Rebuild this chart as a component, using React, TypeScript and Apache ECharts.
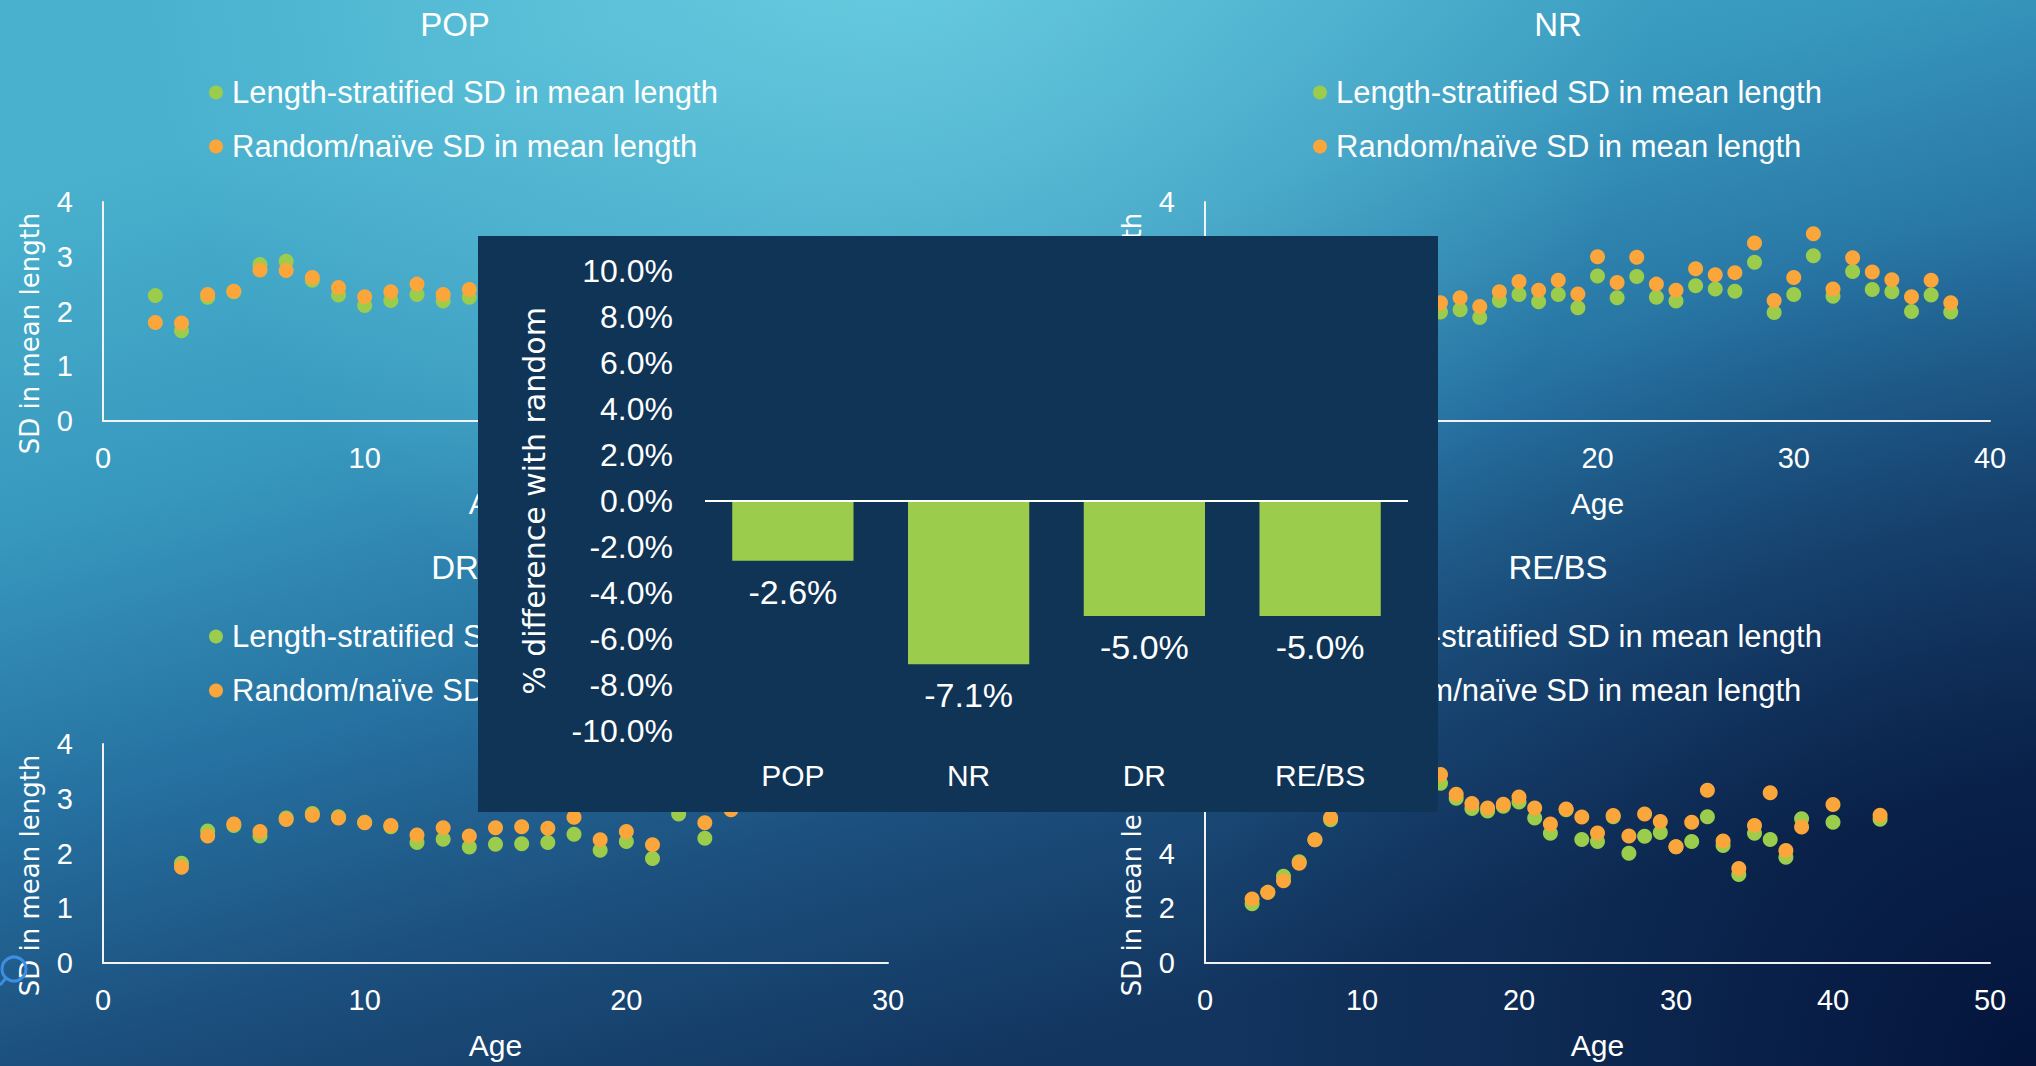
import React, { useEffect, useRef } from "react";
import * as echarts from "echarts";

const WIDTH = 2036;
const HEIGHT = 1066;

const STRATIFIED = "Length-stratified SD in mean length";
const RANDOM = "Random/naïve SD in mean length";

// POP
const popAges = [2, 3, 4, 5, 6, 7, 8, 9, 10, 11, 12, 13, 14];
const popStratified = [2.29, 1.65, 2.26, 2.36, 2.86, 2.92, 2.57, 2.3, 2.11, 2.2, 2.31, 2.19, 2.26];
const popRandom = [1.8, 1.79, 2.31, 2.37, 2.76, 2.75, 2.62, 2.44, 2.27, 2.36, 2.5, 2.31, 2.4];

// NR
const nrAges = [12, 13, 14, 15, 16, 17, 18, 19, 20, 21, 22, 23, 24, 25, 26, 27, 28, 29, 30, 31, 32, 33, 34, 35, 36, 37, 38];
const nrStratified = [1.99, 2.03, 1.89, 2.2, 2.31, 2.18, 2.31, 2.07, 2.65, 2.25, 2.64, 2.26, 2.19, 2.47, 2.41, 2.37, 2.9, 1.98, 2.31, 3.02, 2.28, 2.73, 2.4, 2.36, 2.0, 2.3, 1.99];
const nrRandom = [2.16, 2.25, 2.09, 2.36, 2.55, 2.39, 2.57, 2.32, 3.0, 2.53, 2.99, 2.5, 2.39, 2.78, 2.67, 2.71, 3.25, 2.2, 2.62, 3.42, 2.41, 2.98, 2.72, 2.58, 2.27, 2.57, 2.16];

// DR
const drAges = [3, 4, 5, 6, 7, 8, 9, 10, 11, 12, 13, 14, 15, 16, 17, 18, 19, 20, 21, 22, 23, 24];
const drStratified = [1.82, 2.41, 2.51, 2.32, 2.65, 2.73, 2.67, 2.57, 2.49, 2.2, 2.26, 2.12, 2.17, 2.18, 2.2, 2.35, 2.06, 2.22, 1.91, 2.72, 2.28, null];
const drRandom = [1.75, 2.32, 2.54, 2.4, 2.62, 2.7, 2.65, 2.56, 2.51, 2.34, 2.47, 2.32, 2.47, 2.49, 2.46, 2.66, 2.25, 2.4, 2.16, null, 2.56, 2.8];

// RE/BS
const rebsAges = [3, 4, 5, 6, 7, 8, 15, 16, 17, 18, 19, 20, 21, 22, 23, 24, 25, 26, 27, 28, 29, 30, 31, 32, 33, 34, 35, 36, 37, 38, 40, 43];
const rebsStratified = [2.16, 2.58, 3.17, 3.7, 4.5, 5.23, 6.57, 6.02, 5.64, 5.55, 5.73, 5.88, 5.3, 4.74, 5.6, 4.51, 4.44, 5.34, 4.01, 4.63, 4.77, 4.25, 4.44, 5.34, 4.29, 3.23, 4.74, 4.51, 3.86, 5.27, 5.14, 5.25];
const rebsRandom = [2.34, 2.58, 3.0, 3.64, 4.5, 5.31, 6.89, 6.16, 5.83, 5.66, 5.8, 6.06, 5.66, 5.08, 5.63, 5.33, 4.75, 5.39, 4.64, 5.44, 5.17, 4.25, 5.14, 6.31, 4.46, 3.45, 5.02, 6.22, 4.11, 4.97, 5.79, 5.4];

// Summary bar chart
const methods = ["POP", "NR", "DR", "RE/BS"];
const pctDifference = [-2.6, -7.1, -5.0, -5.0];

// Axis ranges
const pctMin = -10;
const pctMax = 10;
const pctStep = 2;
const ageStep = 10;

const GREEN = "#9BCC4C";
const ORANGE = "#FBA63A";
const PANEL = "#0F3456";
const AXIS_LINE = "#F2F2F2";
const TW = "'Liberation Sans', Arial, sans-serif";
const GOTHIC = "'DejaVu Sans', sans-serif";

const scatterData = [
  { title: "POP", ages: popAges, strat: popStratified, rand: popRandom, xMax: 30, yMax: 4, yStep: 1 },
  { title: "NR", ages: nrAges, strat: nrStratified, rand: nrRandom, xMax: 40, yMax: 4, yStep: 1 },
  { title: "DR", ages: drAges, strat: drStratified, rand: drRandom, xMax: 30, yMax: 4, yStep: 1 },
  { title: "RE/BS", ages: rebsAges, strat: rebsStratified, rand: rebsRandom, xMax: 50, yMax: 8, yStep: 2 },
];

// Placement of the four small charts on the slide
const layouts = [
  { left: 103, top: 202, titleX: 455, titleTop: 8, legendX: 209, legendTop: 77 },
  { left: 1205, top: 202, titleX: 1558, titleTop: 8, legendX: 1313, legendTop: 77 },
  { left: 103, top: 744, titleX: 455, titleTop: 551, legendX: 209, legendTop: 621 },
  { left: 1205, top: 744, titleX: 1558, titleTop: 551, legendX: 1313, legendTop: 621 },
];

const pairs = (ages: number[], vals: (number | null)[]) =>
  ages.map((a, i) => [a, vals[i]]).filter((p) => p[1] !== null);

function buildOption() {
  const grids: any[] = [];
  const xAxes: any[] = [];
  const yAxes: any[] = [];
  const titles: any[] = [];
  const legends: any[] = [];
  const series: any[] = [];

  scatterData.forEach((d, i) => {
    const l = layouts[i];
    grids.push({ left: l.left, top: l.top, width: 785, height: 219 });
    xAxes.push({
      type: "value",
      gridIndex: i,
      min: 0,
      max: d.xMax,
      interval: ageStep,
      axisLine: { show: true, onZero: false, lineStyle: { color: AXIS_LINE, width: 2 } },
      axisTick: { show: false },
      splitLine: { show: false },
      axisLabel: { color: "#fff", fontSize: 29, fontFamily: TW, margin: 22 },
      name: "Age",
      nameLocation: "middle",
      nameGap: 67,
      nameTextStyle: { color: "#fff", fontSize: 30, fontFamily: TW },
    });
    yAxes.push({
      type: "value",
      gridIndex: i,
      min: 0,
      max: d.yMax,
      interval: d.yStep,
      axisLine: { show: true, lineStyle: { color: AXIS_LINE, width: 2 } },
      axisTick: { show: false },
      splitLine: { show: false },
      axisLabel: { color: "#fff", fontSize: 29, fontFamily: TW, margin: 30 },
      name: "SD in mean length",
      nameLocation: "middle",
      nameGap: 60,
      nameTextStyle: { color: "#fff", fontSize: 26, fontFamily: GOTHIC, padding: [0, 44, 0, 0] },
    });
    titles.push({
      text: d.title,
      left: l.titleX,
      top: l.titleTop,
      textAlign: "center",
      padding: 0,
      textStyle: { color: "#fff", fontSize: 33, fontWeight: "normal", fontFamily: TW },
    });
    legends.push({
      orient: "vertical",
      left: l.legendX,
      top: l.legendTop,
      padding: 0,
      itemGap: 23,
      itemWidth: 14,
      itemHeight: 14,
      icon: "circle",
      selectedMode: false,
      data: [STRATIFIED, RANDOM],
      textStyle: { color: "#fff", fontSize: 31, fontFamily: TW, lineHeight: 31, padding: [0, 0, 0, 4] },
    });
    series.push({
      type: "scatter",
      name: STRATIFIED,
      xAxisIndex: i,
      yAxisIndex: i,
      symbolSize: 15,
      itemStyle: { color: GREEN, opacity: 1 },
      data: pairs(d.ages, d.strat),
      z: 2,
    });
    series.push({
      type: "scatter",
      name: RANDOM,
      xAxisIndex: i,
      yAxisIndex: i,
      symbolSize: 15,
      itemStyle: { color: ORANGE, opacity: 1 },
      data: pairs(d.ages, d.rand),
      z: 3,
    });
  });

  // Summary bar chart on the dark panel
  const bi = scatterData.length;
  grids.push({ left: 705, top: 271, width: 703, height: 460 });
  xAxes.push({
    type: "category",
    gridIndex: bi,
    data: methods,
    position: "bottom",
    axisLine: { show: false, onZero: false },
    axisTick: { show: false },
    axisLabel: { color: "#fff", fontSize: 30, fontFamily: TW, margin: 29 },
    z: 20,
  });
  yAxes.push({
    type: "value",
    gridIndex: bi,
    min: pctMin,
    max: pctMax,
    interval: pctStep,
    axisLine: { show: false },
    axisTick: { show: false },
    splitLine: { show: false },
    axisLabel: {
      color: "#fff",
      fontSize: 32,
      fontFamily: TW,
      margin: 32,
      formatter: (v: number) => v.toFixed(1) + "%",
    },
    name: "% difference with random",
    nameLocation: "middle",
    nameGap: 156,
    nameTextStyle: { color: "#fff", fontSize: 30, fontFamily: GOTHIC },
    z: 20,
  });
  series.push({
    type: "bar",
    name: "% difference with random",
    xAxisIndex: bi,
    yAxisIndex: bi,
    data: pctDifference,
    barCategoryGap: "31%",
    itemStyle: { color: GREEN },
    z: 20,
    label: {
      show: true,
      position: "bottom",
      distance: 14,
      color: "#fff",
      fontSize: 34,
      fontFamily: TW,
      formatter: (p: any) => p.value.toFixed(1) + "%",
    },
    markLine: {
      silent: true,
      symbol: ["none", "none"],
      z: 21,
      label: { show: false },
      lineStyle: { color: "#fff", width: 2, type: "solid" },
      data: [{ yAxis: 0 }],
    },
  });

  const base = new echarts.graphic.LinearGradient(
    700, 0, 1000, 1066,
    [
      { offset: 0, color: "#49B1CE" },
      { offset: 0.3, color: "#3797BD" },
      { offset: 0.55, color: "#2570A0" },
      { offset: 0.76, color: "#1C4F7D" },
      { offset: 1, color: "#12355F" },
    ],
    true
  );
  const glow = new echarts.graphic.RadialGradient(
    900, -60, 760,
    [
      { offset: 0, color: "rgba(125,222,236,0.6)" },
      { offset: 0.6, color: "rgba(125,222,236,0.25)" },
      { offset: 1, color: "rgba(125,222,236,0)" },
    ],
    true
  );
  const shade = new echarts.graphic.RadialGradient(
    2036, 1066, 850,
    [
      { offset: 0, color: "rgba(0,12,50,0.8)" },
      { offset: 0.6, color: "rgba(0,12,50,0.25)" },
      { offset: 1, color: "rgba(0,12,50,0)" },
    ],
    true
  );

  return {
    animation: false,
    grid: grids,
    xAxis: xAxes,
    yAxis: yAxes,
    title: titles,
    legend: legends,
    series,
    graphic: {
      elements: [
        { type: "rect", silent: true, z: -30, shape: { x: 0, y: 0, width: WIDTH, height: HEIGHT }, style: { fill: base } },
        { type: "rect", silent: true, z: -29, shape: { x: 0, y: 0, width: WIDTH, height: HEIGHT }, style: { fill: glow } },
        { type: "rect", silent: true, z: -28, shape: { x: 0, y: 0, width: WIDTH, height: HEIGHT }, style: { fill: shade } },
        { type: "rect", silent: true, z: 10, shape: { x: 478, y: 236, width: 960, height: 576 }, style: { fill: PANEL } },
        { type: "circle", silent: true, z: 30, shape: { cx: 14, cy: 969, r: 12 }, style: { fill: "none", stroke: "#3C8FE3", lineWidth: 3 } },
        { type: "line", silent: true, z: 30, shape: { x1: 6, y1: 978, x2: 0, y2: 985 }, style: { stroke: "#3C8FE3", lineWidth: 3 } },
      ],
    },
  };
}

export default function App() {
  const ref = useRef<HTMLDivElement>(null);
  useEffect(() => {
    document.body.style.margin = "0";
    if (!ref.current) return;
    const chart = echarts.init(ref.current, undefined, { renderer: "svg" });
    chart.setOption(buildOption());
    return () => chart.dispose();
  }, []);
  return <div ref={ref} style={{ width: WIDTH, height: HEIGHT }} />;
}
